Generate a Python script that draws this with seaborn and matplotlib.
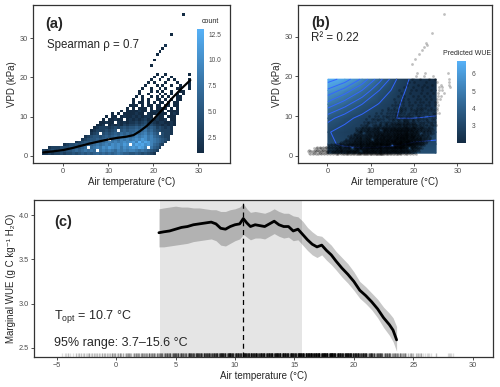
import numpy as np
import seaborn as sns
import matplotlib.pyplot as plt
from matplotlib.colors import LinearSegmentedColormap, Normalize
from matplotlib.cm import ScalarMappable

sns.set_theme(style="ticks")
plt.rcParams["font.family"] = ["Liberation Sans", "DejaVu Sans"]
plt.rcParams["mathtext.fontset"] = "custom"
plt.rcParams["mathtext.rm"] = "Liberation Sans"

# ---- observations (air temperature vs VPD), read as counts per 2-d bin
# 50 temperature bins from -4.6 C (0.66 wide), VPD bins from 0.3 kPa (0.72 wide)
# rows listed from VPD 20.8 kPa (top) down to 0.7 kPa; '.' = empty, hex digit = count
count_rows = [
    ".......... .......... .......... ........1. .1.......1",
    ".......... .......... .......... .......1.. 1..1......",
    ".......... .......... .......... ......1..1 ..1.1....1",
    ".......... .......... .......... .....1.1.. .1...1...1",
    ".......... .......... .......... ....1...1. 1..1..1..1",
    ".......... .......... .......... ...1..1..1 .1...11..1",
    ".......... .......... .......... ..1...1.1. 1..1..11..",
    ".......... .......... .......... ..1..1...1 .1.1.1.1..",
    ".......... .......... .......... .1.1..1.1. 1.1..11...",
    ".......... .......... .......... 1..1.1..11 .1.1.11...",
    ".......... .......... .......... 1.11.1.1.1 1.1.11....",
    ".......... .......... .........1 11.1.11.11 .11.11....",
    ".......... .......... ........1. 1.111.1.11 11.1.1....",
    ".......... .......... ......1.11 11211.1211 1.1111....",
    ".......... .......... ...1.1.111 1211.21121 11.121....",
    ".......... .......... .1.11.1211 2121221.21 1.111.....",
    ".......... .......... 1.11211.12 1212312121 12.11.....",
    ".......... .........1 1211.21212 2323423212 21121.....",
    ".......... ........11 2.12121323 3434534322 12121.....",
    ".......... .......123 3323434545 5656756534 3232......",
    ".......... ......1233 34345.5656 6767867544 3332......",
    ".......... ......234. 4545657676 787897865. 4332......",
    ".......... ....234554 5656768787 8989a89765 433.......",
    ".......... ...2345565 67.7879898 9a9ba89876 543.......",
    ".......... .234556676 7898989a9a b9dacb9876 53........",
    ".......234 4545676787 898a9a9ba. acbcab9764 3.........",
    "..23334445 56567.7898 a9ba9a8a9a bacb9.8653 ..........",
    "3234345455 67678787.8 9898798989 987876543. ..........",
    "2232334344 5456565676 7676787665 56545432.. ..........",
]
# isolated high-VPD observations
extra_temp = [19.6, 20.3, 21.1, 21.8, 22.3, 23.0, 22.8, 24.1, 26.9]
extra_vpd = [23.1, 24.3, 25.6, 26.6, 27.4, 27.9, 28.3, 30.8, 35.6]

# loess smooth in panel (a)
smooth_temp = [-4.4, -2, 0, 2, 4, 6, 8, 10, 12, 14, 15.6, 17, 18.5, 20, 22, 24, 26, 28.2]
smooth_vpd = [0.9, 1.2, 1.5, 2.0, 2.6, 3.2, 3.7, 4.2, 4.6, 4.9, 5.3, 6.3, 7.6, 9.3, 11.8, 14.5, 16.9, 19.3]

# predicted WUE surface, panel (b)
field_temp = [0.1, 4, 8, 12, 16, 20, 25.1]
field_vpd = [0.7, 3, 6, 9.5, 13, 16.5, 19.3]
field_wue = [
    [3.50, 3.30, 3.20, 3.20, 3.25, 3.30, 3.35],
    [3.10, 2.90, 2.85, 2.90, 2.95, 3.05, 3.10],
    [3.05, 2.75, 2.60, 2.55, 2.60, 2.75, 2.80],
    [3.70, 3.20, 2.80, 2.60, 2.50, 2.50, 2.55],
    [4.80, 4.20, 3.50, 2.95, 2.55, 2.30, 2.25],
    [5.90, 5.30, 4.50, 3.50, 2.75, 2.25, 2.10],
    [6.75, 6.30, 5.40, 4.20, 3.00, 2.30, 2.00],
]

# marginal WUE curve, panel (c)
wue_temp = [3.6, 4.0, 4.5, 5.0, 5.5, 6.0, 6.5, 7.0, 7.5, 8.0, 8.4, 8.8, 9.2, 9.6,
            10.0, 10.4, 10.7, 11.0, 11.3, 11.7, 12.1, 12.5, 12.9, 13.3, 13.7, 14.1,
            14.5, 14.9, 15.3, 15.7, 16.1, 16.5, 16.9, 17.3, 17.7, 18.1, 18.5, 19.0,
            19.5, 20.0, 20.5, 21.0, 21.5, 22.0, 22.5, 23.0, 23.3, 23.6]
wue_mid = [3.80, 3.81, 3.82, 3.84, 3.86, 3.87, 3.89, 3.90, 3.91, 3.92, 3.90, 3.85,
           3.84, 3.87, 3.89, 3.90, 3.96, 3.91, 3.87, 3.89, 3.88, 3.87, 3.90, 3.93,
           3.89, 3.87, 3.87, 3.82, 3.84, 3.78, 3.72, 3.67, 3.64, 3.66, 3.60, 3.55,
           3.48, 3.40, 3.33, 3.25, 3.15, 3.09, 3.02, 2.94, 2.84, 2.76, 2.70, 2.59]
wue_hi = [4.07, 4.08, 4.09, 4.10, 4.09, 4.09, 4.08, 4.08, 4.07, 4.06, 4.06, 4.04,
          4.04, 4.06, 4.07, 4.09, 4.13, 4.07, 4.03, 4.04, 4.03, 4.02, 4.04, 4.07,
          4.04, 4.02, 4.02, 3.99, 3.98, 3.93, 3.86, 3.81, 3.77, 3.76, 3.71, 3.66,
          3.59, 3.52, 3.45, 3.36, 3.25, 3.19, 3.12, 3.05, 2.96, 2.89, 2.84, 2.74]
wue_lo = [3.64, 3.64, 3.65, 3.66, 3.67, 3.68, 3.70, 3.71, 3.72, 3.73, 3.71, 3.66,
          3.65, 3.68, 3.71, 3.73, 3.78, 3.75, 3.72, 3.74, 3.74, 3.73, 3.76, 3.79,
          3.76, 3.74, 3.75, 3.71, 3.72, 3.66, 3.60, 3.55, 3.52, 3.55, 3.49, 3.44,
          3.38, 3.30, 3.23, 3.15, 3.06, 3.00, 2.93, 2.84, 2.73, 2.64, 2.57, 2.46]
t_opt = 10.7
t_range = (3.7, 15.6)

# ---- bins and expansion of the counts
bw_t, bw_v = 0.66, 0.72
t0, v0 = -4.6, 0.3
off_u = [0.0, 0.3, -0.3, 0.15, -0.2, 0.35, -0.38, 0.05, -0.1, 0.25, -0.28, 0.38, -0.05]
off_v = [0.0, -0.25, 0.3, 0.35, -0.35, 0.1, -0.1, -0.38, 0.2, 0.38, 0.05, -0.15, -0.3]

cell_t, cell_v, cell_n = [], [], []
obs_temp, obs_vpd = list(extra_temp), list(extra_vpd)
for j, row in enumerate(reversed(count_rows)):
    for i, ch in enumerate(row.replace(" ", "")):
        if ch == ".":
            continue
        n = int(ch, 16)
        ct, cv = t0 + bw_t * (i + 0.5), v0 + bw_v * (j + 0.5)
        cell_t.append(ct)
        cell_v.append(cv)
        cell_n.append(n)
        for k in range(n):
            obs_temp.append(ct + bw_t * off_u[(k + 5 * j) % 13])
            obs_vpd.append(cv + bw_v * off_v[k])
for t, v in zip(extra_temp, extra_vpd):
    cell_t.append(t)
    cell_v.append(v)
    cell_n.append(1)
obs_temp = np.array(obs_temp)
obs_vpd = np.array(obs_vpd)

gg_blue = LinearSegmentedColormap.from_list("gg", ["#132B43", "#336A98", "#56B1F7"])
tick_col, frame_col = "#4D4D4D", "#333333"

fig = plt.figure(figsize=(5, 3.87), dpi=100)
ax_a = fig.add_axes([0.066, 0.5788, 0.394, 0.408])
ax_b = fig.add_axes([0.596, 0.5788, 0.388, 0.408])
ax_c = fig.add_axes([0.068, 0.0783, 0.918, 0.405])
cax_a = fig.add_axes([0.394, 0.6047, 0.014, 0.3204])
cax_b = fig.add_axes([0.9133, 0.6305, 0.0187, 0.2119])


def style(ax):
    for sp in ax.spines.values():
        sp.set_visible(True)
        sp.set_color(frame_col)
        sp.set_linewidth(0.9)
    ax.tick_params(labelsize=5.3, labelcolor=tick_col, color=frame_col,
                   length=2.2, width=0.6, pad=1.5)
    ax.grid(False)


# (a) 2-d histogram + smooth
sns.histplot(x=cell_t, y=cell_v, weights=cell_n, binwidth=(bw_t, bw_v),
             binrange=((t0, t0 + 50 * bw_t), (v0, v0 + 50 * bw_v)),
             cmap=gg_blue, ax=ax_a)
mesh = ax_a.collections[0]
mesh.set_clim(1, 13)
sns.lineplot(x=smooth_temp, y=smooth_vpd, color="black", lw=1.6, ax=ax_a)
ax_a.set_xlim(-6.7, 37)
ax_a.set_ylim(-1.8, 38.4)
ax_a.set_xticks([0, 10, 20, 30])
ax_a.set_yticks([0, 10, 20, 30])
ax_a.set_xlabel("Air temperature (°C)", fontsize=7, labelpad=1.5)
ax_a.set_ylabel("VPD (kPa)", fontsize=7, labelpad=2)
ax_a.text(-3.9, 33.6, "(a)", fontsize=10.5, fontweight="bold", va="center")
ax_a.text(-3.7, 28.2, "Spearman ρ = 0.7", fontsize=8.3, va="center")
style(ax_a)

cb = fig.colorbar(mesh, cax=cax_a, ticks=[2.5, 5.0, 7.5, 10.0, 12.5])
cb.outline.set_visible(False)
cax_a.tick_params(labelsize=4.8, labelcolor=tick_col, color="white", direction="in",
                  length=2, width=0.5, pad=3)
cax_a.text(0.7, 1.06, "count", transform=cax_a.transAxes, fontsize=5, va="center")

# (b) predicted surface + contours + observations
ax_b.pcolormesh(field_temp, field_vpd, field_wue, shading="gouraud", cmap=gg_blue,
                vmin=2.0, vmax=6.75, zorder=1)
ax_b.contour(field_temp, field_vpd, field_wue, levels=np.arange(2.5, 7.0, 0.5),
             colors="#3366FF", linewidths=0.7, zorder=2)
sns.scatterplot(x=obs_temp, y=obs_vpd, color="black", alpha=0.25, s=4, linewidth=0,
                ax=ax_b, zorder=3)
ax_b.set_xlim(-6.8, 38)
ax_b.set_ylim(-1.76, 37.9)
ax_b.set_xticks([0, 10, 20, 30])
ax_b.set_yticks([0, 10, 20, 30])
ax_b.set_xlabel("Air temperature (°C)", fontsize=7, labelpad=1.5)
ax_b.set_ylabel("VPD (kPa)", fontsize=7, labelpad=2)
ax_b.text(-3.8, 33.5, "(b)", fontsize=10.5, fontweight="bold", va="center")
ax_b.text(-3.8, 29.6, "R² = 0.22", fontsize=8.3, va="center")
style(ax_b)

cb2 = fig.colorbar(ScalarMappable(Normalize(2.0, 6.75), gg_blue), cax=cax_b, ticks=[3, 4, 5, 6])
cb2.outline.set_visible(False)
cax_b.tick_params(labelsize=4.8, labelcolor=tick_col, color="white", direction="in",
                  length=2, width=0.5, pad=4)
cax_b.text(-1.5, 1.094, "Predicted WUE", transform=cax_b.transAxes, fontsize=5, va="center")

# (c) marginal WUE
ax_c.axvspan(*t_range, color="#E5E5E5", lw=0, zorder=0)
ax_c.fill_between(wue_temp, wue_lo, wue_hi, color="black", alpha=0.22, lw=0, zorder=1)
sns.lineplot(x=wue_temp, y=wue_mid, color="black", lw=2, ax=ax_c, zorder=2)
ax_c.axvline(t_opt, color="black", ls=(0, (4, 3)), lw=0.9, zorder=3)
sns.rugplot(x=obs_temp, height=0.022, color="black", alpha=0.13, lw=0.6, ax=ax_c)
ax_c.set_xlim(-6.91, 31.71)
ax_c.set_ylim(2.40, 4.17)
ax_c.set_xticks(np.arange(-5, 31, 5))
ax_c.set_yticks([2.5, 3.0, 3.5, 4.0])
ax_c.set_yticklabels(["2.5", "3.0", "3.5", "4.0"])
ax_c.set_xlabel("Air temperature (°C)", fontsize=7, labelpad=1.5)
ax_c.set_ylabel("Marginal WUE (g C kg⁻¹ H₂O)", fontsize=7, labelpad=2)
ax_c.text(-5.2, 3.92, "(c)", fontsize=10.5, fontweight="bold", va="center")
ax_c.text(-5.2, 2.85, r"T$_\mathregular{opt}$ = " + f"{t_opt} °C", fontsize=9, va="center")
ax_c.text(-5.2, 2.55, f"95% range: {t_range[0]}–{t_range[1]} °C", fontsize=9, va="center")
style(ax_c)

fig.savefig("out.png", dpi=100)
